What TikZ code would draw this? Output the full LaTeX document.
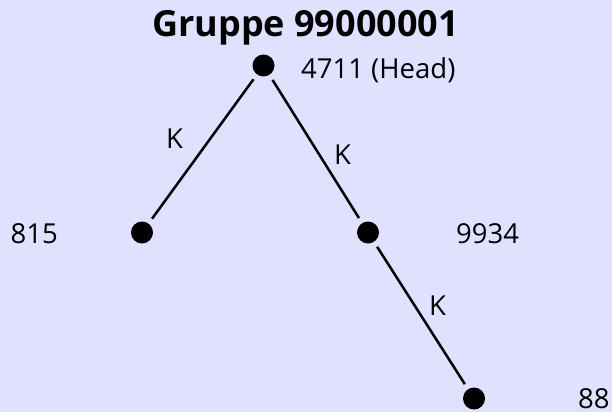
\documentclass[tikz,border=0pt]{standalone}
\usepackage{fontspec}
\setmainfont{Open Sans}
\definecolor{bg}{RGB}{224,224,255}
\tikzset{
  dot/.style={circle, fill=black, minimum size=22pt, inner sep=0pt, outer sep=6pt},
  lbl/.style={anchor=base west, inner sep=0pt, font=\fontsize{27.5}{30}\selectfont},
  ttl/.style={anchor=base west, inner sep=0pt, font=\fontsize{36}{40}\selectfont\bfseries},
  edge/.style={line width=2.5pt, black}
}
\begin{document}
\begin{tikzpicture}[x=1pt, y=-1pt]
  \fill[bg] (0,0) rectangle (612,412);
  \useasboundingbox (0,0) rectangle (612,412);
  \node[ttl] (title) at (152,37) {Gruppe 99000001};
  \node[dot] (head) at (263.5,65.5) {};
  \node[dot] (n815) at (142,232.5) {};
  \node[dot] (n9934) at (368,232.5) {};
  \node[dot] (n88) at (474,398.5) {};
  \node[lbl] (lhead) at (301,78) {4711 (Head)};
  \node[lbl] (l815) at (10.5,243) {815};
  \node[lbl] (l9934) at (456,243) {9934};
  \node[lbl] (l88) at (578,408) {88};
  \draw[edge] (head) -- (n815);
  \draw[edge] (head) -- (n9934);
  \draw[edge] (n9934) -- (n88);
  \node[lbl] (k1) at (166,148) {K};
  \node[lbl] (k2) at (334,164) {K};
  \node[lbl] (k3) at (429,315) {K};
\end{tikzpicture}
\end{document}
